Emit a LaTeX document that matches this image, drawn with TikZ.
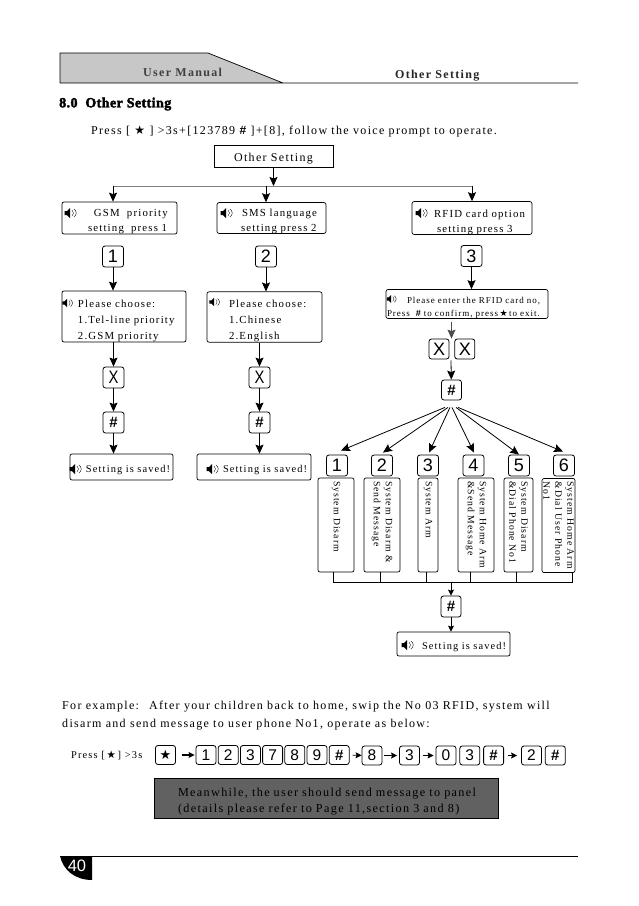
\documentclass[tikz,border=0pt]{standalone}
\usepackage{fontspec}
\setmainfont[LetterSpace=11]{Liberation Serif}
\setsansfont{Liberation Sans}
\newfontfamily\symfont{DejaVu Sans}
\newfontfamily\titlefont[FakeBold=2.5,LetterSpace=3]{Liberation Serif}
\usetikzlibrary{positioning, arrows.meta}
\newcommand{\Star}{{\symfont\char"2605}}
\newcommand{\Hash}{{\sffamily\bfseries \#}}
\newcommand{\KeyHash}{{\sffamily\bfseries\fontsize{15}{15}\selectfont \#}}
\newcommand{\NarrowX}{\scalebox{0.82}[1]{X}}
\newcommand{\Up}{\rule{0pt}{14pt}}
\newcommand{\UpMore}{\rule{0pt}{16pt}}
\newcommand{\Sp}{\hspace*{3pt}}
\tikzset{
    speaker/.pic = {
    \fill (-6.5,-2) -- (-4,-2) -- (-1,-5) -- (-1,5) -- (-4,2) -- (-6.5,2) -- cycle;
    \draw[line width=0.4pt] (1,-3) .. controls (3,-1) and (3,1) .. (1,3);
    \draw[line width=0.4pt] (3,-4) .. controls (6,-1.5) and (6,1.5) .. (3,4);
    },
    keybox/.style={draw, rounded corners=2.5pt, line width=0.8pt, inner sep=0pt, minimum width=21pt, minimum height=21pt, font=\sffamily\fontsize{18}{18}\selectfont},
    rowkey/.style={keybox, minimum width=20pt, minimum height=19pt, font=\sffamily\fontsize{15.5}{16}\selectfont},
    msgbox/.style={draw, rounded corners=2pt, line width=0.7pt, inner xsep=0pt, inner ysep=0pt, align=left, font=\fontsize{10.8}{14.5}\selectfont},
    sidebox/.style={draw, rounded corners=2pt, line width=0.7pt, rotate=-90, inner xsep=0pt, inner ysep=0pt, text width=94pt, minimum height=30pt, align=left, font=\fontsize{9.7}{12}\selectfont},
    plaintext/.style={inner sep=0pt, anchor=west, font=\fontsize{12}{14}\selectfont},
    arr/.style={-{Stealth[length=9pt, width=8pt, inset=1.5pt]}, line width=0.8pt},
    tinyarr/.style={-{Stealth[length=6pt, width=6pt, inset=1pt]}, line width=0.8pt},
}

\begin{document}
\begin{tikzpicture}[x=1pt, y=-1pt]
    \useasboundingbox (0,0) rectangle (638,906);

    % page header
    \fill[black!22] (60,53) -- (208,53) -- (283,83) -- (60,83) -- cycle;
    \draw[line width=0.7pt] (60,83) -- (60,53) -- (208,53) -- (283,83) -- (60,83) -- (578,83);
    \node[plaintext, font=\bfseries\fontsize{12}{13}\selectfont, text=black!75] (manual) at (143,72) {User Manual};
    \node[plaintext, font=\bfseries\fontsize{12}{13}\selectfont, text=black!85] (section) at (395,76) {Other Setting};
    \node[plaintext, font=\titlefont\bfseries\fontsize{14}{16}\selectfont] (title) at (59,104) {8.0 \ Other Setting};
    \node[plaintext] (intro) at (91,131) {Press [ \Star\ ] >3s+[123789 \Hash\ ]+[8], follow the voice prompt to operate.};

    \node[draw, line width=0.7pt, inner sep=0pt, minimum width=119pt, minimum height=22pt, font=\fontsize{12}{13}\selectfont] (other) at (273.5,156) {\Up Other Setting};
    \coordinate (busl) at (113,186);
    \coordinate (busm) at (266,186);
    \coordinate (busr) at (472,186);
    \draw[draw=black!50, line width=0.8pt] (busl) -- (busr);
    \draw[arr] (other) -- (other|-busl);

    % three menus
    \node[msgbox, text width=115pt, minimum height=32pt] (gsm) at (119.5,218) {\Up\hspace*{32pt}GSM \ priority\\\hspace*{26pt}setting \ press 1};
    \node[msgbox, text width=109pt, minimum height=30pt] (sms) at (271.5,218) {\Up\hspace*{25pt}SMS language\\\hspace*{24pt}setting press 2};
    \node[msgbox, text width=120pt, minimum height=30pt] (rfid) at (472,218) {\UpMore\hspace*{22pt}RFID card option\\\hspace*{25pt}setting press 3};
    \draw[arr] (busl) -- (busl|-gsm.north);
    \draw[arr] (busm) -- (busm|-sms.north);
    \draw[arr] (busr) -- (busr|-rfid.north);

    \node[keybox] (k1) at (113,256.5) {1};
    \node[keybox] (k2) at (266,256.5) {2};
    \node[keybox] (k3) at (471.5,256) {3};

    \node[msgbox, text width=124pt, minimum height=51pt, font=\fontsize{10.8}{16}\selectfont] (choose1) at (124,316.5) {\UpMore\hspace*{16pt}Please choose:\\\hspace*{16pt}1.Tel-line priority\\\hspace*{16pt}2.GSM priority};
    \node[msgbox, text width=115pt, minimum height=50pt, font=\fontsize{10.8}{16}\selectfont] (choose2) at (264.5,317) {\UpMore\hspace*{22pt}Please choose:\\\hspace*{22pt}1.Chinese\\\hspace*{22pt}2.English};
    \node[msgbox, text width=162pt, minimum height=28pt, font=\fontsize{9}{13}\selectfont] (card) at (467,304) {\Up\hspace*{21pt}Please enter the RFID card no,\\\hspace*{1pt}Press \ \Hash\ to confirm, press\,\Star\,to exit.};
    \draw[arr] (k1) -- (k1|-choose1.north);
    \draw[arr] (k2) -- (k2|-choose2.north);
    \draw[arr] (k3) -- (k3|-card.north);

    % left columns
    \node[keybox] (x1) at (113.5,377.5) {\NarrowX};
    \node[keybox] (h1) at (113.5,422.5) {\KeyHash};
    \node[msgbox, text width=103pt, minimum height=26pt, font=\fontsize{10.4}{14}\selectfont] (saved1) at (121.5,467) {\Up\hspace*{16pt}Setting is saved!};
    \draw[arr] (x1|-choose1.south) -- (x1);
    \draw[arr] (x1) -- (h1);
    \draw[arr] (h1) -- (h1|-saved1.north);

    \node[keybox] (x2) at (259.5,377.5) {\NarrowX};
    \node[keybox] (h2) at (259.5,422.5) {\KeyHash};
    \node[msgbox, text width=114pt, minimum height=26pt, font=\fontsize{10.4}{14}\selectfont] (saved2) at (254,467) {\Up\hspace*{26pt}Setting is saved!};
    \draw[arr] (x2|-choose2.south) -- (x2);
    \draw[arr] (x2) -- (h2);
    \draw[arr] (h2) -- (h2|-saved2.north);

    % right column
    \node[keybox, minimum width=20pt, minimum height=20pt] (xa) at (439,349) {X};
    \node[keybox, minimum width=20pt, minimum height=20pt, right=5pt of xa] (xb) {X};
    \node[keybox, minimum width=20pt, minimum height=20pt] (h3) at (451.5,390) {\KeyHash};
    \draw[arr, draw=black!70] ([xshift=12.5pt, yshift=-3pt]xa.north|-card.south) -- ([xshift=12.5pt]xa.north);
    \draw[arr] ([xshift=12pt, yshift=-1pt]xa.south) -- (h3);

    \node[keybox] (s1) at (337,465.5) {1};
    \node[keybox] (s2) at (382,465.5) {2};
    \node[keybox] (s3) at (428,465.5) {3};
    \node[keybox] (s4) at (473.5,465.5) {4};
    \node[keybox] (s5) at (519,465.5) {5};
    \node[keybox] (s6) at (564,465.5) {6};
    \draw[arr] ([xshift=-6.5pt, yshift=-7pt]h3.south) -- ([xshift=4pt, yshift=4pt]s1.north);
    \draw[arr] ([xshift=-3.5pt, yshift=-7pt]h3.south) -- ([xshift=1pt, yshift=2pt]s2.north);
    \draw[arr] ([xshift=-1.5pt, yshift=-7pt]h3.south) -- ([xshift=1pt, yshift=2pt]s3.north);
    \draw[arr] ([xshift=0.5pt, yshift=-7pt]h3.south) -- ([xshift=0.5pt, yshift=2pt]s4.north);
    \draw[arr] ([xshift=4.5pt, yshift=-7pt]h3.south) -- (s5.north);
    \draw[arr] ([xshift=6.5pt, yshift=-7pt]h3.south) -- ([xshift=-1pt, yshift=3pt]s6.north);

    \node[sidebox, minimum height=36pt] (b1) at (336,525) {\Sp System Disarm};
    \node[sidebox, minimum height=36pt] (b2) at (382,525) {\Sp System Disarm \&\\\Sp Send Message};
    \node[sidebox, minimum height=20pt] (b3) at (428,525) {\Sp System Arm};
    \node[sidebox, minimum height=36pt] (b4) at (476,525) {\Sp System Home Arm\\\Sp\&Send Message};
    \node[sidebox, minimum height=29pt] (b5) at (518.5,525) {\Sp System Disarm\\\Sp\&Dial Phone No1};
    \node[sidebox, minimum height=33pt] (b6) at (558.5,525.5) {\Sp System Home Arm\\\Sp\&Dial User Phone\\\Sp No1};

    \coordinate (c1) at (333,582);
    \coordinate (c2) at (380,582);
    \coordinate (c3) at (426,582);
    \coordinate (c4) at (470,582);
    \coordinate (c5) at (516,582);
    \coordinate (c6) at (572,582);
    \draw[line width=0.8pt] (c1|-b1.east) -- (c1) -- (c6) -- (c6|-b6.east);
    \draw[line width=0.8pt] (c2|-b2.east) -- (c2);
    \draw[line width=0.8pt] (c3|-b3.east) -- (c3);
    \draw[line width=0.8pt] (c4|-b4.east) -- (c4);
    \draw[line width=0.8pt] (c5|-b5.east) -- (c5);

    \node[keybox, minimum width=20pt] (h4) at (451,606.5) {\KeyHash};
    \node[msgbox, text width=113pt, minimum height=24pt, font=\fontsize{10.4}{14}\selectfont] (saved3) at (453.5,644) {\Up\hspace*{25pt}Setting is saved!};
    \coordinate (c7) at (451,582);
    \draw[tinyarr] (c7) -- (h4);
    \draw[tinyarr] (h4) -- (h4|-saved3.north);

    % speakers
    \pic at (71,213) {speaker};
    \pic at (227,213) {speaker};
    \pic at (422,213) {speaker};
    \pic[scale=0.8] at (392,299) {speaker};
    \pic[scale=0.85] at (68,303) {speaker};
    \pic[scale=0.85] at (215,302) {speaker};
    \pic at (76,469) {speaker};
    \pic at (213,469) {speaker};
    \pic at (408,645) {speaker};

    % example
    \node[plaintext] (line1) at (62,707) {For example: \ After your children back to home, swip the No 03 RFID, system will};
    \node[plaintext] (line2) at (62,725) {disarm and send message to user phone No1, operate as below:};
    \node[plaintext, font=\fontsize{10.4}{12}\selectfont] (press) at (71,755) {Press [\,\Star\,] >3s};

    \node[rowkey] (rs) at (165.5,755) {\fontsize{13}{13}\selectfont\Star};
    \node[rowkey] (r1) at (206,755) {1};
    \node[rowkey, right=1.4pt of r1] (r2) {2};
    \node[rowkey, right=1.4pt of r2] (r3) {3};
    \node[rowkey, right=1.4pt of r3] (r4) {7};
    \node[rowkey, right=1.4pt of r4] (r5) {8};
    \node[rowkey, right=1.4pt of r5] (r6) {9};
    \node[rowkey, right=1.4pt of r6] (r7) {\KeyHash};
    \node[rowkey] (r8) at (372,755.5) {8};
    \node[rowkey] (r9) at (409.5,755.5) {3};
    \node[rowkey] (r10) at (446,755.5) {0};
    \node[rowkey, right=3pt of r10] (r11) {3};
    \node[rowkey, right=3pt of r11] (r12) {\KeyHash};
    \node[rowkey] (r13) at (531.5,755.5) {2};
    \node[rowkey, right=3pt of r13] (r14) {\KeyHash};
    \draw[tinyarr, line width=1.4pt, shorten <=6pt, shorten >=1pt] (rs) -- (r1);
    \draw[tinyarr, shorten <=3pt] (r7) -- (r8);
    \draw[tinyarr, shorten <=2pt, shorten >=2pt] (r8) -- (r9);
    \draw[tinyarr, shorten <=3pt, shorten >=2pt] (r9) -- (r10);
    \draw[tinyarr, shorten <=4pt, shorten >=4pt] (r12) -- (r13);

    \node[draw, fill=black!62, line width=0.7pt, inner xsep=0pt, inner ysep=0pt, text width=344pt, minimum height=40pt, align=left, text=black, font=\fontsize{12.2}{16.5}\selectfont] (note) at (326,798) {\UpMore\hspace*{24pt}Meanwhile, the user should send message to panel\\\hspace*{24pt}(details please refer to Page 11,section 3 and 8)};

    % page footer
    \fill (60,856) -- (92,856) -- (92,880) .. controls (75,880) and (63,870) .. (60,856);
    \coordinate (footl) at (60,856);
    \coordinate (footr) at (578,856);
    \draw[line width=0.7pt] (footl) -- (footr);
    \node[text=white, inner sep=0pt, font=\sffamily\fontsize{16.5}{16.5}\selectfont] (pageno) at (77,866) {40};
\end{tikzpicture}
\end{document}
